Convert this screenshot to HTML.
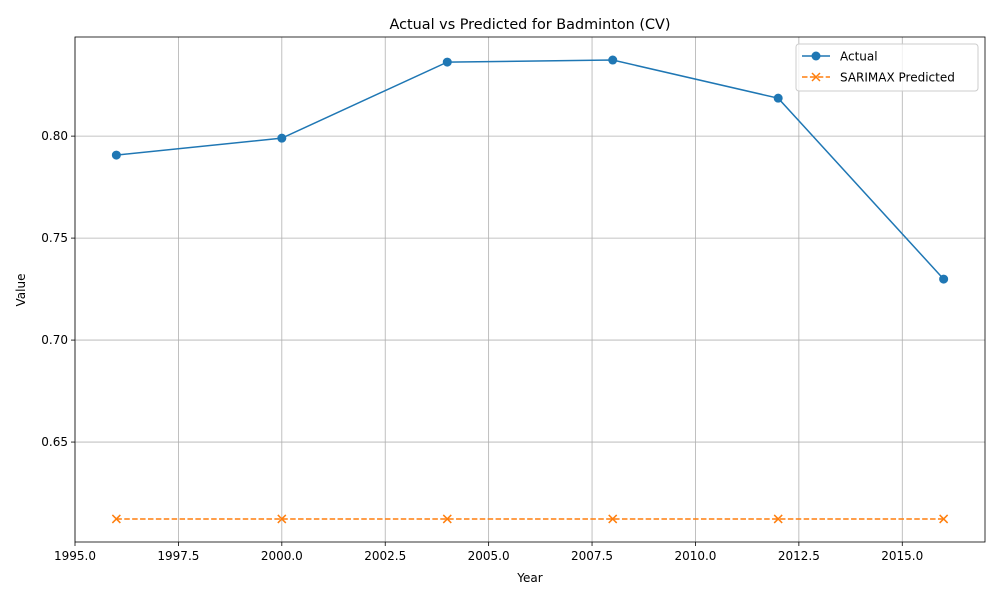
<!DOCTYPE html>
<html><head><meta charset="utf-8"><style>
body{margin:0;background:#fff;font-family:"Liberation Sans","DejaVu Sans",sans-serif;}
svg text{font-family:"DejaVu Sans","Liberation Sans",sans-serif;}
</style></head><body>
<svg id="chart" width="1000" height="600"></svg>
<script>
const years=[1996,2000,2004,2008,2012,2016];
const actual=[0.7907,0.7990,0.8363,0.8373,0.8186,0.7299];
const predicted=[0.6123,0.6123,0.6123,0.6123,0.6123,0.6123];
const xTicks=[1995,1997.5,2000,2002.5,2005,2007.5,2010,2012.5,2015];
const xTickLabels=["1995.0","1997.5","2000.0","2002.5","2005.0","2007.5","2010.0","2012.5","2015.0"];
const yTicks=[0.65,0.70,0.75,0.80];
const yTickLabels=["0.65","0.70","0.75","0.80"];
const L=75,R=985,T=37,B=542,xmin=1995,xmax=2017,ymin=0.601,ymax=0.8486;
const X=v=>L+(v-xmin)/(xmax-xmin)*(R-L);
const Y=v=>B-(v-ymin)/(ymax-ymin)*(B-T);
const svg=document.getElementById('chart');const NS='http://www.w3.org/2000/svg';
function mk(t,a,p){const e=document.createElementNS(NS,t);for(const k in a)e.setAttribute(k,a[k]);(p||svg).appendChild(e);return e;}
const grid=mk('g',{});


xTicks.forEach((v,i)=>{const x=X(v);mk('line',{x1:x,x2:x,y1:T,y2:B,stroke:'#b0b0b0','stroke-width':0.8},grid);
mk('line',{x1:x,x2:x,y1:B,y2:B+4,stroke:'#000','stroke-width':0.8});
const t=mk('text',{x:x,y:B+18,'text-anchor':'middle','font-size':12});t.textContent=xTickLabels[i];

});
yTicks.forEach((v,i)=>{const y=Y(v);mk('line',{x1:L,x2:R,y1:y,y2:y,stroke:'#b0b0b0','stroke-width':0.8},grid);
mk('line',{x1:L-4,x2:L,y1:y,y2:y,stroke:'#000','stroke-width':0.8});
const t=mk('text',{x:L-7,y:y+4,'text-anchor':'end','font-size':12});t.textContent=yTickLabels[i];

});
const pa=mk('polyline',{points:years.map((y,i)=>X(y)+','+Y(actual[i])).join(' '),fill:'none',stroke:'#1f77b4','stroke-width':1.5});


years.forEach((y,i)=>{const c=mk('circle',{cx:X(y),cy:Y(actual[i]),r:4.5,fill:'#1f77b4'});

});
const pp=mk('polyline',{points:years.map((y,i)=>X(y)+','+Y(predicted[i])).join(' '),fill:'none',stroke:'#ff7f0e','stroke-width':1.5,'stroke-dasharray':'5.5,2.4'});


function cross(x,y,p){mk('path',{d:`M${x-4},${y-4}L${x+4},${y+4}M${x-4},${y+4}L${x+4},${y-4}`,stroke:'#ff7f0e','stroke-width':1.5},p);}
years.forEach((y,i)=>{const g=mk('g',{});


cross(X(y),Y(predicted[i]),g);});
mk('rect',{x:L,y:T,width:R-L,height:B-T,fill:'none',stroke:'#000','stroke-width':0.8});
</script>
<svg width="1000" height="600" style="position:absolute;left:0;top:0">
<text x="530" y="29" text-anchor="middle" font-size="14.4">Actual vs Predicted for Badminton (CV)</text>
<text x="530" y="582" text-anchor="middle" font-size="12">Year</text>
<text x="25" y="290" text-anchor="middle" font-size="12" transform="rotate(-90 25 290)">Value</text>
<g>
<rect x="796" y="44" width="182" height="47" rx="3" fill="#fff" fill-opacity="0.8" stroke="#ccc"/>
<g>
<line x1="802" x2="830" y1="56" y2="56" stroke="#1f77b4" stroke-width="1.5"/><circle cx="816" cy="56" r="4.5" fill="#1f77b4"/>
<text x="840" y="60.5" font-size="12">Actual</text></g>
<g>
<line x1="802" x2="830" y1="77" y2="77" stroke="#ff7f0e" stroke-width="1.5" stroke-dasharray="5.5,2.4"/>
<path d="M812,73L820,81M812,81L820,73" stroke="#ff7f0e" stroke-width="1.5"/>
<text x="840" y="81.5" font-size="12">SARIMAX Predicted</text></g>
</g>
</svg>
</body></html>
